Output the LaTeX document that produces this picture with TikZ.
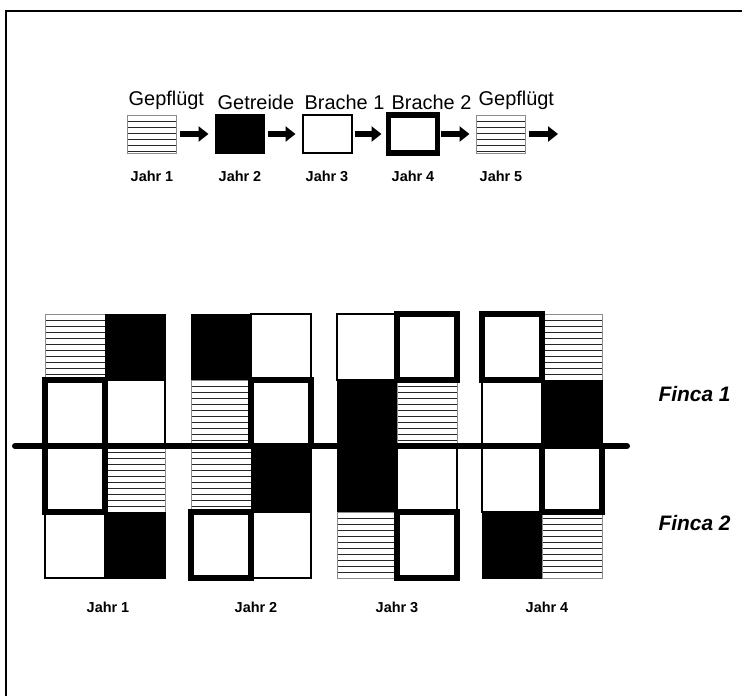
\documentclass[tikz,border=0pt]{standalone}
\usepackage{fontspec}
\setmainfont{Liberation Sans}
\usetikzlibrary{arrows.meta,positioning}

\begin{document}
\begin{tikzpicture}[x=1bp,y=-1bp,>={Triangle[length=10bp,width=15bp]},
 cell/.style={minimum width=60bp,minimum height=66bp,inner sep=0pt,outer sep=0pt},
 key/.style={minimum width=49bp,minimum height=38bp,inner sep=0pt,outer sep=0pt},
 gepfl/.style={draw=black!45,line width=0.8bp,path picture={
  \foreach \k in {1,...,11}
   \draw[black!85,line width=0.8bp] ([yshift=-\k*6bp]path picture bounding box.north west)
    -- ([yshift=-\k*6bp]path picture bounding box.north east);}},
 getreide/.style={draw,fill=black,line width=1bp},
 bracheA/.style={draw,fill=white,line width=2bp},
 bracheB/.style={draw,fill=white,line width=5.5bp},
 titel/.style={font=\fontsize{20}{23}\selectfont,inner sep=1pt,anchor=south west},
 jahr/.style={font=\bfseries\fontsize{14.5}{17}\selectfont},
 finca/.style={font=\bfseries\itshape\fontsize{21}{25}\selectfont,anchor=west},
 pfeil/.style={->,line width=5.5bp}]
\useasboundingbox (0,0) rectangle (742,696);
\draw[line width=1.5bp] (6,696) -- (6,11) -- (742,11);
% legend
\node[key,gepfl] (k1) at (152,134) {};
\node[key,getreide] (k2) at (240,134) {};
\node[key,bracheA] (k3) at (327,134) {};
\node[key,bracheB] (k4) at (413,134) {};
\node[key,gepfl] (k5) at (501,134) {};
\coordinate (kend) at (558,134);
\node[titel] (c1) at ([xshift=0bp,yshift=4bp]k1.north west) {Gepflügt};
\node[titel] (c2) at ([xshift=1bp,yshift=4bp]k2.north west) {Getreide};
\node[titel] (c3) at ([xshift=1bp,yshift=4bp]k3.north west) {Brache 1};
\node[titel] (c4) at ([xshift=2bp,yshift=4bp]k4.north west) {Brache 2};
\node[titel] (c5) at ([xshift=1bp,yshift=4bp]k5.north west) {Gepflügt};
\node[jahr,below=15bp of k1] (t1) {Jahr 1};
\node[jahr,below=15bp of k2] (t2) {Jahr 2};
\node[jahr,below=15bp of k3] (t3) {Jahr 3};
\node[jahr,below=15bp of k4] (t4) {Jahr 4};
\node[jahr,below=15bp of k5] (t5) {Jahr 5};
\draw[pfeil] ([xshift=3bp]k1.east) -- ([xshift=-7bp]k2.west);
\draw[pfeil] ([xshift=3bp]k2.east) -- ([xshift=-7bp]k3.west);
\draw[pfeil] ([xshift=3bp]k3.east) -- ([xshift=-7bp]k4.west);
\draw[pfeil] ([xshift=3bp]k4.east) -- ([xshift=-7bp]k5.west);
\draw[pfeil] ([xshift=3bp]k5.east) -- (kend);
% Jahr 1
\node[cell,gepfl] (j1r1l) at (75,347) {};
\node[cell,getreide] (j1r1r) at (135,347) {};
\node[cell,bracheA] (j1r2r) at (135,413) {};
\node[cell,gepfl] (j1r3r) at (135,479) {};
\node[cell,bracheA] (j1r4l) at (75,545) {};
\node[cell,getreide] (j1r4r) at (135,545) {};
% Jahr 2
\node[cell,getreide] (j2r1l) at (221,347) {};
\node[cell,bracheA] (j2r1r) at (281,347) {};
\node[cell,gepfl] (j2r2l) at (221,413) {};
\node[cell,gepfl] (j2r3l) at (221,479) {};
\node[cell,getreide] (j2r3r) at (281,479) {};
\node[cell,bracheA] (j2r4r) at (281,545) {};
% Jahr 3
\node[cell,bracheA] (j3r1l) at (367,347) {};
\node[cell,getreide] (j3r2l) at (367,413) {};
\node[cell,gepfl] (j3r2r) at (427,413) {};
\node[cell,getreide] (j3r3l) at (367,479) {};
\node[cell,bracheA] (j3r3r) at (427,479) {};
\node[cell,gepfl] (j3r4l) at (367,545) {};
% Jahr 4
\node[cell,gepfl] (j4r1r) at (572,347) {};
\node[cell,bracheA] (j4r2l) at (512,413) {};
\node[cell,getreide] (j4r2r) at (572,413) {};
\node[cell,bracheA] (j4r3l) at (512,479) {};
\node[cell,getreide] (j4r4l) at (512,545) {};
\node[cell,gepfl] (j4r4r) at (572,545) {};
% Brache 2 on top
\node[cell,bracheB] (j1r2l) at (75,413) {};
\node[cell,bracheB] (j1r3l) at (75,479) {};
\node[cell,bracheB] (j2r2r) at (281,413) {};
\node[cell,bracheB] (j2r4l) at (221,545) {};
\node[cell,bracheB] (j3r1r) at (427,347) {};
\node[cell,bracheB] (j3r4r) at (427,545) {};
\node[cell,bracheB] (j4r1l) at (512,347) {};
\node[cell,bracheB] (j4r3r) at (572,479) {};
% Fincas
\coordinate (divl) at (15,446);
\coordinate (divr) at (627,446);
\draw[line width=6bp,line cap=round] (divl) -- (divr);
\node[finca] (f1) at (655,394) {Finca 1};
\node[finca] (f2) at (655,523) {Finca 2};
\node[jahr] (g1) at (108,607) {Jahr 1};
\node[jahr] (g2) at (256,607) {Jahr 2};
\node[jahr] (g3) at (397,607) {Jahr 3};
\node[jahr] (g4) at (547,607) {Jahr 4};
\end{tikzpicture}
\end{document}
